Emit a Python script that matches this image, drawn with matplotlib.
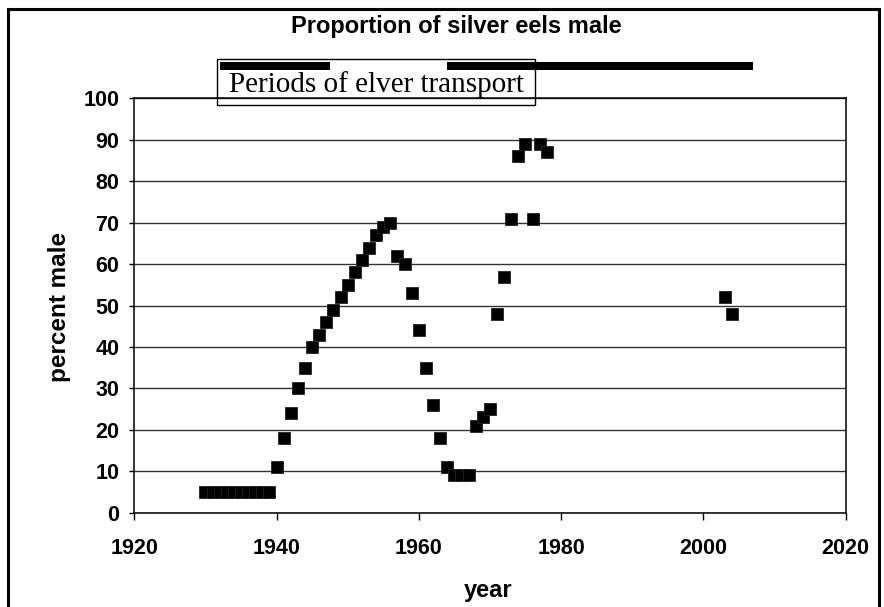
"""Proportion of silver eels male, with the periods of elver transport."""
import matplotlib
matplotlib.use("Agg")
import matplotlib.pyplot as plt
import matplotlib.transforms as mtransforms
from matplotlib.patches import Rectangle

W, H = 884, 607

# data
years = [1930, 1931, 1932, 1933, 1934, 1935, 1936, 1937, 1938, 1939,
         1940, 1941, 1942, 1943, 1944, 1945, 1946, 1947, 1948, 1949,
         1950, 1951, 1952, 1953, 1954, 1955, 1956, 1957, 1958, 1959,
         1960, 1961, 1962, 1963, 1964, 1965, 1966, 1967, 1968, 1969,
         1970, 1971, 1972, 1973, 1974, 1975, 1976, 1977, 1978,
         2003, 2004]
pct_male = [5, 5, 5, 5, 5, 5, 5, 5, 5, 5,
            11, 18, 24, 30, 35, 40, 43, 46, 49, 52,
            55, 58, 61, 64, 67, 69, 70, 62, 60, 53,
            44, 35, 26, 18, 11, 9, 9, 9, 21, 23,
            25, 48, 57, 71, 86, 89, 71, 89, 87,
            52, 48]
transport_start = [1932, 1964]
transport_end = [1947.5, 2007]

x_ticks = [1920, 1940, 1960, 1980, 2000, 2020]
y_ticks = [0, 10, 20, 30, 40, 50, 60, 70, 80, 90, 100]

SANS = ["Liberation Sans", "DejaVu Sans"]
SERIF = ["Liberation Serif", "DejaVu Serif"]
plt.rcParams["font.family"] = SANS


def fx(px):
    return px / W


def fy(py):
    return 1 - py / H


fig = plt.figure(figsize=(W / 100, H / 100), dpi=100)
ax = fig.add_axes([fx(134.3), fy(512.8), fx(845.5) - fx(134.3), fy(98.3) - fy(512.8)])

ax.plot(years, pct_male, ls="none", marker="s", ms=8, color="black",
        mec="#222222", mew=0.6, zorder=3, clip_on=False)

ax.set_xlim(1920, 2020)
ax.set_ylim(0, 100)
ax.set_xticks(x_ticks)
ax.set_yticks(y_ticks)
ax.tick_params(axis="x", direction="out", length=5, width=1, pad=13, labelsize=15.5)
ax.tick_params(axis="y", direction="out", length=3.6, width=1, pad=7, labelsize=15.5)
for lab in ax.get_xticklabels() + ax.get_yticklabels():
    lab.set_fontweight("bold")
ax.grid(True, axis="y", color="#333333", linewidth=1.0)
ax.set_axisbelow(True)
for s in ax.spines.values():
    s.set_linewidth(1.1)
    s.set_color("black")

# periods of elver transport above the axes
trans = mtransforms.blended_transform_factory(ax.transData, ax.transAxes)
ax.hlines([1.079] * len(transport_start), transport_start, transport_end,
          colors="black", linewidth=5.8, transform=trans, clip_on=False)

fig.patches.append(Rectangle((fx(217.3), fy(105)), fx(535.2) - fx(217.3), fy(59.3) - fy(105),
                             transform=fig.transFigure, fill=False, edgecolor="black",
                             linewidth=1.0))
fig.text(fx(376), fy(92), "Periods of elver transport", ha="center", va="baseline",
         fontsize=21, family=SERIF)

fig.text(fx(456), fy(27), "Proportion of silver eels male", ha="center", va="center",
         fontsize=17, fontweight="bold")
fig.text(fx(488), fy(591), "year", ha="center", va="center",
         fontsize=17, fontweight="bold")
fig.text(fx(60), fy(307), "percent male", ha="center", va="center", rotation=90,
         fontsize=17.5, fontweight="bold")

# chart frame (bottom edge runs off the image)
fig.patches.append(Rectangle((fx(8), -0.05), fx(879) - fx(8), fy(9) + 0.05,
                             transform=fig.transFigure, fill=False, edgecolor="black",
                             linewidth=2.2))

fig.savefig("out.png", dpi=100)
